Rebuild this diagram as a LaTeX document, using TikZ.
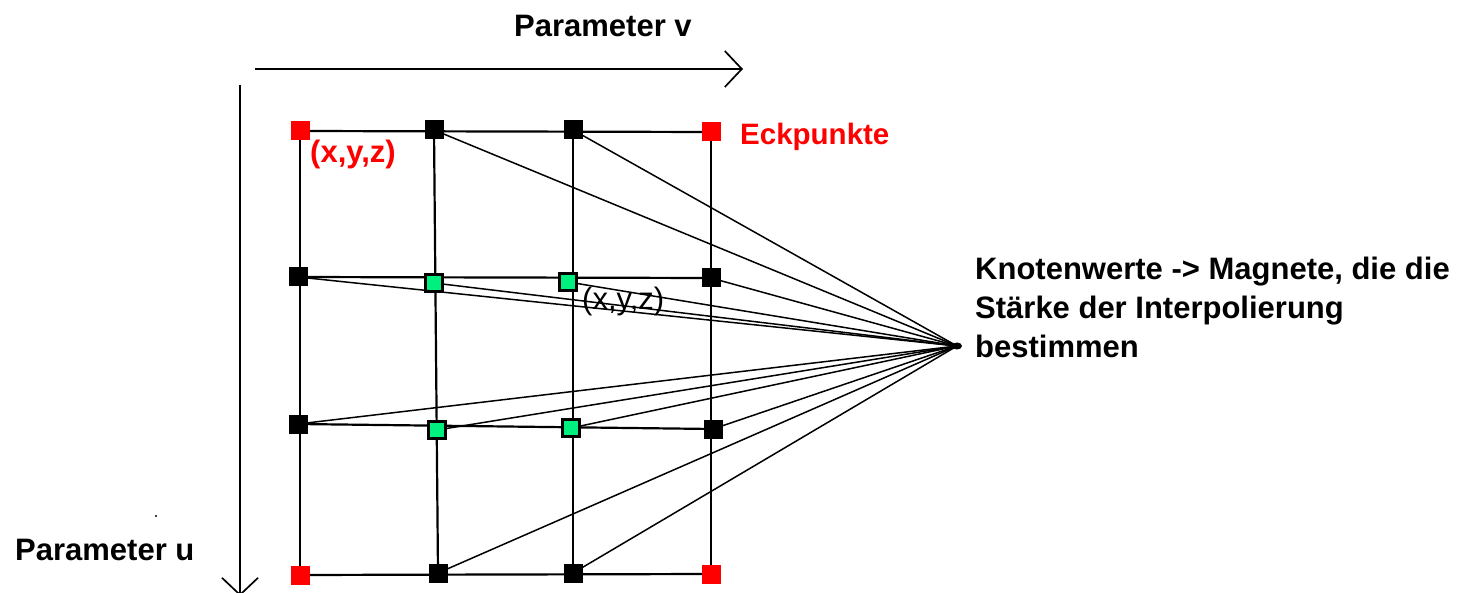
\documentclass[tikz,border=0pt]{standalone}
\usepackage{fontspec}
\setmainfont{Liberation Sans}
\usetikzlibrary{arrows.meta}
\definecolor{ptred}{RGB}{255,0,0}
\definecolor{ptgreen}{RGB}{0,240,128}
\begin{document}
\begin{tikzpicture}[x=1pt,y=-1pt,
  gridline/.style={line width=2.2pt,black},
  fanline/.style={line width=1.5pt,black},
  axis/.style={line width=1.7pt,black,-{Straight Barb[length=17pt,width=36pt,line width=1.7pt]}},
  blacksq/.style={draw=none,fill=black,minimum size=19pt,inner sep=0pt},
  redsq/.style={draw=none,fill=ptred,minimum size=19pt,inner sep=0pt},
  greensq/.style={draw=black,line width=2.4pt,fill=ptgreen,minimum size=17pt,inner sep=0pt},
  lbl/.style={inner sep=0pt,anchor=base west,font=\fontsize{31}{39}\selectfont\bfseries},
]
\useasboundingbox (0,0) rectangle (1475,593);
\fill[white] (0,0) rectangle (1475,593);
% grid point positions
\coordinate (p11) at (300,131); \coordinate (p12) at (434,130);
\coordinate (p13) at (573,130); \coordinate (p14) at (711,132);
\coordinate (p21) at (298,277); \coordinate (p22) at (434,283);
\coordinate (p23) at (568,282); \coordinate (p24) at (711,278);
\coordinate (p31) at (298,424); \coordinate (p32) at (437,430);
\coordinate (p33) at (571,428); \coordinate (p34) at (713,429);
\coordinate (p41) at (300,575); \coordinate (p42) at (438,573);
\coordinate (p43) at (573,573); \coordinate (p44) at (711,574);
\coordinate (F) at (957,346);
% grid lines
\draw[gridline] (p11) -- (p14);
\draw[gridline] (p21) -- (p24);
\draw[gridline] (p31) -- (p34);
\draw[gridline] (p41) -- (p44);
\draw[gridline] (p11) -- (p41);
\draw[gridline] (p12) -- (p42);
\draw[gridline] (p13) -- (p43);
\draw[gridline] (p14) -- (p44);
% nodes
\node[redsq] (c11) at (p11) {};
\node[blacksq] (c12) at (p12) {};
\node[blacksq] (c13) at (p13) {};
\node[redsq] (c14) at (p14) {};
\node[blacksq] (c21) at (p21) {};
\node[greensq] (c22) at (p22) {};
\node[greensq] (c23) at (p23) {};
\node[blacksq] (c24) at (p24) {};
\node[blacksq] (c31) at (p31) {};
\node[greensq] (c32) at (p32) {};
\node[greensq] (c33) at (p33) {};
\node[blacksq] (c34) at (p34) {};
\node[redsq] (c41) at (p41) {};
\node[blacksq] (c42) at (p42) {};
\node[blacksq] (c43) at (p43) {};
\node[redsq] (c44) at (p44) {};
% fan lines to the magnet point
\foreach \n in {c12,c13,c21,c22,c23,c24,c31,c32,c33,c34,c42,c43}
  \draw[fanline] (\n) -- (F);
\fill (F) ellipse (5pt and 3.5pt);
% axes
\coordinate (hv0) at (255,69); \coordinate (hv1) at (743,69);
\coordinate (vu0) at (240,85); \coordinate (vu1) at (240,596);
\draw[axis] (hv0) -- (hv1);
\draw[axis] (vu0) -- (vu1);
% labels
\node[lbl] (pv) at (514,37) {Parameter v};
\node[lbl] (pu) at (15,560) {Parameter u};
\node[lbl,text=ptred,font=\fontsize{29.5}{36}\selectfont\bfseries] (eck) at (740,145) {Eckpunkte};
\node[lbl,text=ptred] (xyz1) at (310,163) {(x,y,z)};
\node[lbl,font=\fontsize{31}{39}\selectfont] (xyz2) at (582,310) {(x,y,z)};
\node[lbl,align=left,anchor=north west] (kn) at (975,257) {Knotenwerte -> Magnete, die die\\Stärke der Interpolierung\\bestimmen};
\fill (156,516) circle (1.2pt);
\end{tikzpicture}
\end{document}
